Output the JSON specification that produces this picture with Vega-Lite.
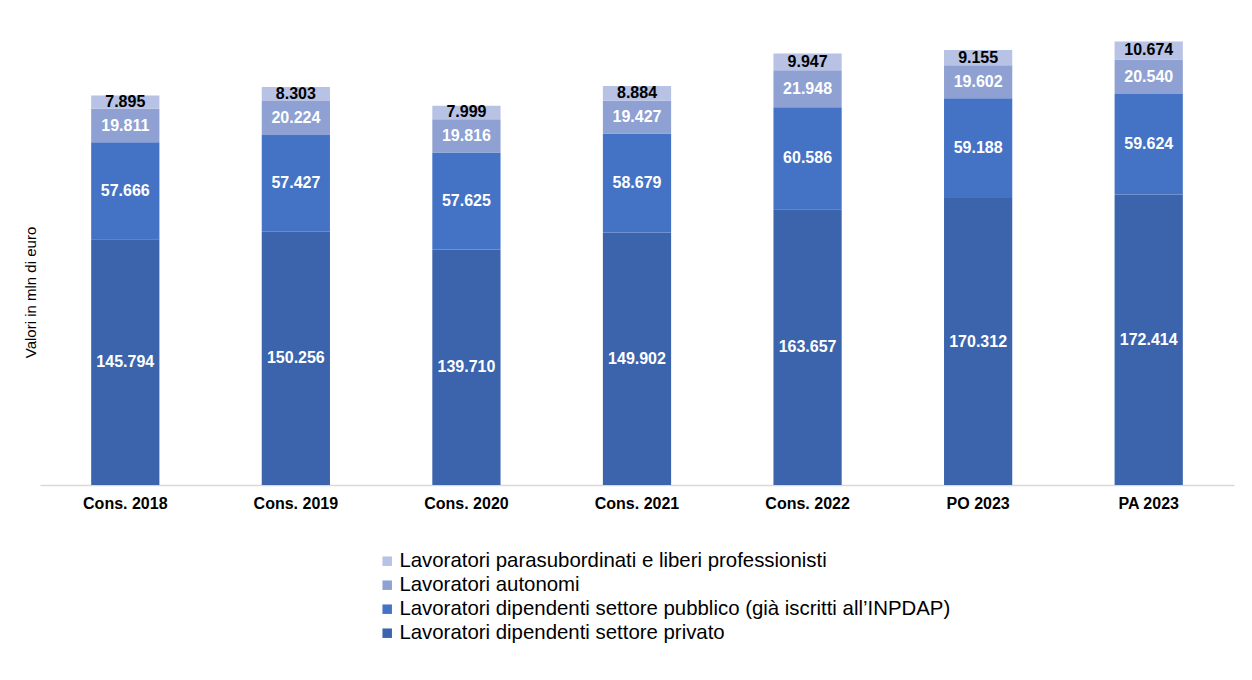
{
  "$schema": "https://vega.github.io/schema/vega-lite/v6.json",
  "autosize": "none",
  "width": 1194,
  "height": 465,
  "padding": {"left": 40, "top": 20, "right": 18, "bottom": 195},
  "background": "white",
  "config": {
    "font": "Liberation Sans",
    "view": {"stroke": null}
  },
  "data": {
    "values": [
      {"anno": "Cons. 2018", "serie": "Lavoratori dipendenti settore privato", "ordine": 1, "valore": 145.794, "etichetta": "145.794"},
      {"anno": "Cons. 2018", "serie": "Lavoratori dipendenti settore pubblico (già iscritti all’INPDAP)", "ordine": 2, "valore": 57.666, "etichetta": "57.666"},
      {"anno": "Cons. 2018", "serie": "Lavoratori autonomi", "ordine": 3, "valore": 19.811, "etichetta": "19.811"},
      {"anno": "Cons. 2018", "serie": "Lavoratori parasubordinati e liberi professionisti", "ordine": 4, "valore": 7.895, "etichetta": "7.895"},
      {"anno": "Cons. 2019", "serie": "Lavoratori dipendenti settore privato", "ordine": 1, "valore": 150.256, "etichetta": "150.256"},
      {"anno": "Cons. 2019", "serie": "Lavoratori dipendenti settore pubblico (già iscritti all’INPDAP)", "ordine": 2, "valore": 57.427, "etichetta": "57.427"},
      {"anno": "Cons. 2019", "serie": "Lavoratori autonomi", "ordine": 3, "valore": 20.224, "etichetta": "20.224"},
      {"anno": "Cons. 2019", "serie": "Lavoratori parasubordinati e liberi professionisti", "ordine": 4, "valore": 8.303, "etichetta": "8.303"},
      {"anno": "Cons. 2020", "serie": "Lavoratori dipendenti settore privato", "ordine": 1, "valore": 139.710, "etichetta": "139.710"},
      {"anno": "Cons. 2020", "serie": "Lavoratori dipendenti settore pubblico (già iscritti all’INPDAP)", "ordine": 2, "valore": 57.625, "etichetta": "57.625"},
      {"anno": "Cons. 2020", "serie": "Lavoratori autonomi", "ordine": 3, "valore": 19.816, "etichetta": "19.816"},
      {"anno": "Cons. 2020", "serie": "Lavoratori parasubordinati e liberi professionisti", "ordine": 4, "valore": 7.999, "etichetta": "7.999"},
      {"anno": "Cons. 2021", "serie": "Lavoratori dipendenti settore privato", "ordine": 1, "valore": 149.902, "etichetta": "149.902"},
      {"anno": "Cons. 2021", "serie": "Lavoratori dipendenti settore pubblico (già iscritti all’INPDAP)", "ordine": 2, "valore": 58.679, "etichetta": "58.679"},
      {"anno": "Cons. 2021", "serie": "Lavoratori autonomi", "ordine": 3, "valore": 19.427, "etichetta": "19.427"},
      {"anno": "Cons. 2021", "serie": "Lavoratori parasubordinati e liberi professionisti", "ordine": 4, "valore": 8.884, "etichetta": "8.884"},
      {"anno": "Cons. 2022", "serie": "Lavoratori dipendenti settore privato", "ordine": 1, "valore": 163.657, "etichetta": "163.657"},
      {"anno": "Cons. 2022", "serie": "Lavoratori dipendenti settore pubblico (già iscritti all’INPDAP)", "ordine": 2, "valore": 60.586, "etichetta": "60.586"},
      {"anno": "Cons. 2022", "serie": "Lavoratori autonomi", "ordine": 3, "valore": 21.948, "etichetta": "21.948"},
      {"anno": "Cons. 2022", "serie": "Lavoratori parasubordinati e liberi professionisti", "ordine": 4, "valore": 9.947, "etichetta": "9.947"},
      {"anno": "PO 2023", "serie": "Lavoratori dipendenti settore privato", "ordine": 1, "valore": 170.312, "etichetta": "170.312"},
      {"anno": "PO 2023", "serie": "Lavoratori dipendenti settore pubblico (già iscritti all’INPDAP)", "ordine": 2, "valore": 59.188, "etichetta": "59.188"},
      {"anno": "PO 2023", "serie": "Lavoratori autonomi", "ordine": 3, "valore": 19.602, "etichetta": "19.602"},
      {"anno": "PO 2023", "serie": "Lavoratori parasubordinati e liberi professionisti", "ordine": 4, "valore": 9.155, "etichetta": "9.155"},
      {"anno": "PA 2023", "serie": "Lavoratori dipendenti settore privato", "ordine": 1, "valore": 172.414, "etichetta": "172.414"},
      {"anno": "PA 2023", "serie": "Lavoratori dipendenti settore pubblico (già iscritti all’INPDAP)", "ordine": 2, "valore": 59.624, "etichetta": "59.624"},
      {"anno": "PA 2023", "serie": "Lavoratori autonomi", "ordine": 3, "valore": 20.540, "etichetta": "20.540"},
      {"anno": "PA 2023", "serie": "Lavoratori parasubordinati e liberi professionisti", "ordine": 4, "valore": 10.674, "etichetta": "10.674"}
    ]
  },
  "encoding": {
    "x": {
      "field": "anno",
      "type": "nominal",
      "sort": null,
      "scale": {"paddingInner": 0.6, "paddingOuter": 0.3},
      "axis": {
        "title": null,
        "labelAngle": 0,
        "labelFont": "Liberation Sans",
        "labelFontSize": 16,
        "labelFontWeight": "bold",
        "labelColor": "#000000",
        "labelPadding": 10,
        "ticks": false,
        "domainColor": "#d9d9d9",
        "domainWidth": 1.5
      }
    }
  },
  "layer": [
    {
      "mark": {"type": "bar"},
      "encoding": {
        "y": {
          "field": "valore",
          "type": "quantitative",
          "stack": "zero",
          "scale": {"domain": [0, 276], "nice": false},
          "axis": {
            "title": "Valori in mln di euro",
            "titleFont": "Liberation Sans",
            "titleFontSize": 15,
            "titleFontWeight": "normal",
            "titleColor": "#000000",
            "titleY": 272,
            "titleX": -2,
            "labels": false,
            "ticks": false,
            "domain": false,
            "grid": false
          }
        },
        "order": {"field": "ordine", "type": "quantitative", "sort": "ascending"},
        "color": {
          "field": "serie",
          "type": "nominal",
          "scale": {
            "domain": [
              "Lavoratori parasubordinati e liberi professionisti",
              "Lavoratori autonomi",
              "Lavoratori dipendenti settore pubblico (già iscritti all’INPDAP)",
              "Lavoratori dipendenti settore privato"
            ],
            "range": ["#B7C2E4", "#8EA1D2", "#4472C4", "#3B64AD"]
          },
          "legend": {
            "title": null,
            "orient": "none",
            "legendX": 337,
            "legendY": 531,
            "symbolType": "square",
            "symbolSize": 90,
            "symbolStrokeWidth": 0,
            "labelFont": "Liberation Sans",
            "labelFontSize": 20.4,
            "labelColor": "#000000",
            "labelOffset": 2,
            "labelLimit": 900,
            "rowPadding": 3
          }
        }
      }
    },
    {
      "transform": [
        {"stack": "valore", "groupby": ["anno"], "sort": [{"field": "ordine", "order": "ascending"}], "as": ["v0", "v1"]},
        {"fold": ["v0", "v1"], "as": ["estremo", "pos"]},
        {"aggregate": [{"op": "mean", "field": "pos", "as": "centro"}], "groupby": ["anno", "serie", "etichetta"]}
      ],
      "mark": {"type": "text", "font": "Liberation Sans", "fontSize": 16, "fontWeight": "bold", "baseline": "middle", "align": "center"},
      "encoding": {
        "y": {"field": "centro", "type": "quantitative", "stack": null},
        "text": {"field": "etichetta", "type": "nominal"},
        "color": {
          "condition": {"test": "datum.serie === 'Lavoratori parasubordinati e liberi professionisti'", "value": "#000000"},
          "value": "#ffffff"
        }
      }
    }
  ]
}
